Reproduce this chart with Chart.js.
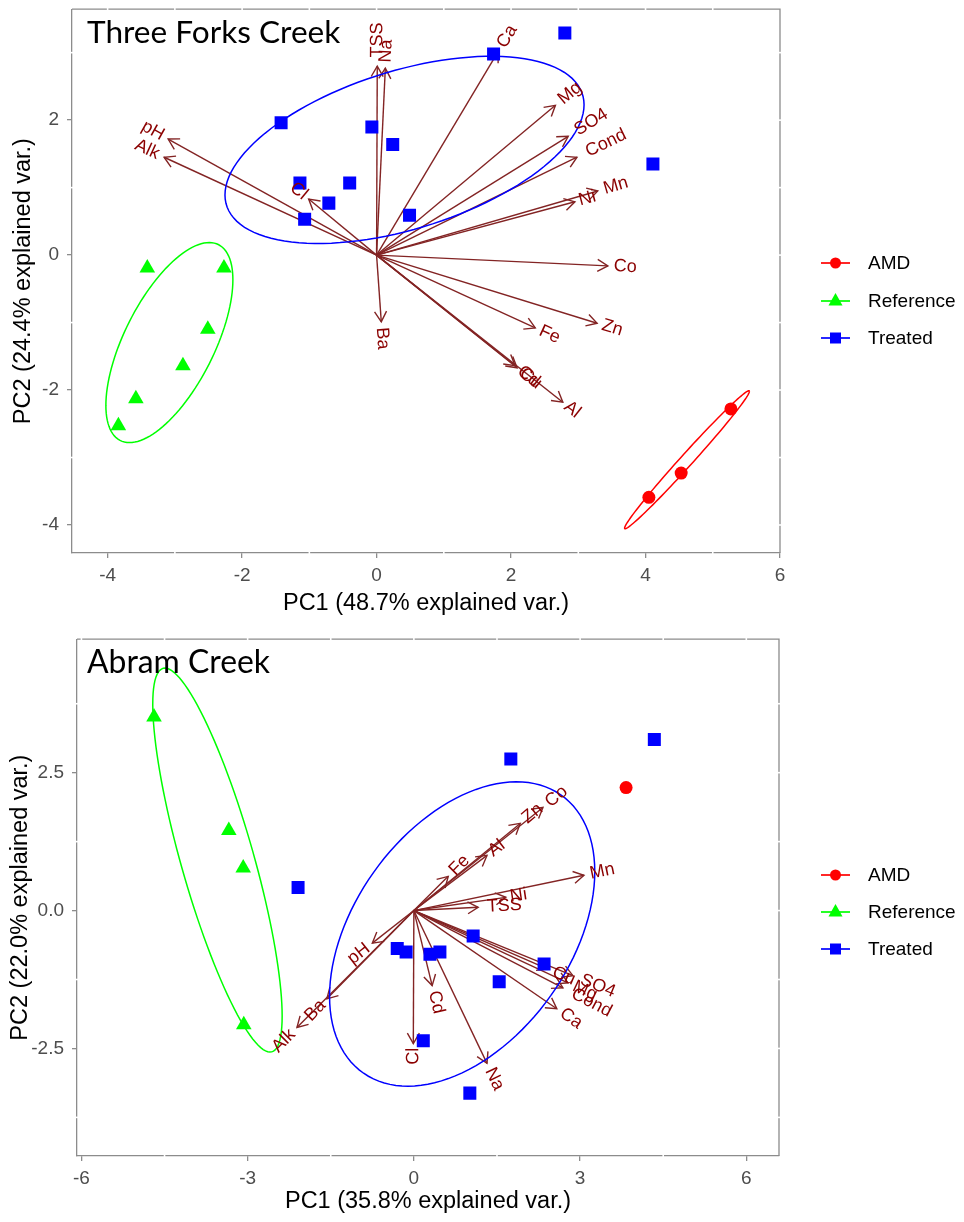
<!DOCTYPE html>
<html>
<head>
<meta charset="utf-8">
<title>PCA biplots</title>
<script src="https://cdn.jsdelivr.net/npm/chart.js@4.4.1/dist/chart.umd.min.js"></script>
<style>
  body { margin: 0; background: #fff; }
  canvas { position: absolute; left: 0; }
</style>
</head>
<body>
<canvas id="tfChart" width="964" height="630" style="top:0"></canvas>
<canvas id="abChart" width="964" height="592" style="top:630px"></canvas>
<script>
// ---- Three Forks Creek: sample scores (PC1, PC2) ----
const tfAmdPC1 = [5.27, 4.53, 4.05];
const tfAmdPC2 = [-2.28, -3.23, -3.59];
const tfRefPC1 = [-3.41, -2.27, -2.51, -2.88, -3.58, -3.84];
const tfRefPC2 = [-0.19, -0.19, -1.10, -1.64, -2.13, -2.53];
const tfTrtPC1 = [-1.42, -0.07, 0.24, -1.14, -0.40, -0.71, -1.07, 0.49, 1.74, 2.80, 4.11];
const tfTrtPC2 = [1.96, 1.90, 1.64, 1.07, 1.07, 0.77, 0.53, 0.59, 2.98, 3.29, 1.35];
// variable loadings
const tfVars = ['pH', 'Alk', 'Cl', 'TSS', 'Na', 'Ca', 'Mg', 'SO4', 'Cond', 'Mn', 'Ni', 'Co', 'Zn', 'Fe', 'Cd', 'Cu', 'Al', 'Ba'];
const tfVarPC1 = [-3.10, -3.16, -1.01, 0.01, 0.13, 1.81, 2.66, 2.85, 2.98, 3.29, 2.95, 3.44, 3.28, 2.36, 2.06, 2.09, 2.77, 0.07];
const tfVarPC2 = [1.72, 1.45, 0.83, 2.80, 2.77, 3.02, 2.22, 1.76, 1.45, 0.95, 0.79, -0.16, -1.01, -1.08, -1.64, -1.67, -2.18, -0.99];
const tfTicksX = [-4, -2, 0, 2, 4, 6];
const tfTicksY = [-4, -2, 0, 2];

// ---- Abram Creek ----
const abAmdPC1 = [3.83];
const abAmdPC2 = [2.23];
const abRefPC1 = [-4.69, -3.34, -3.08, -3.07];
const abRefPC2 = [3.51, 1.45, 0.77, -2.07];
const abTrtPC1 = [-2.09, 1.75, 4.34, 1.07, 2.35, 1.54, 0.17, 1.01, -0.30, -0.14, 0.29, 0.47];
const abTrtPC2 = [0.42, 2.75, 3.10, -0.46, -0.97, -1.29, -2.36, -3.31, -0.69, -0.75, -0.79, -0.75];
const abVars = ['Fe', 'Al', 'Zn', 'Co', 'Mn', 'TSS', 'Ni', 'pH', 'Ba', 'Alk', 'Cl', 'Cd', 'Na', 'Cu', 'SO4', 'Mg', 'Cond', 'Ca'];
const abVarPC1 = [0.62, 1.32, 1.92, 2.33, 3.07, 1.16, 1.66, -0.75, -1.57, -2.11, -0.01, 0.33, 1.32, 2.42, 2.87, 2.78, 2.69, 2.58];
const abVarPC2 = [0.62, 1.00, 1.58, 1.87, 0.64, 0.06, 0.24, -0.59, -1.60, -2.12, -2.41, -1.36, -2.77, -1.06, -1.18, -1.31, -1.40, -1.78];
const abTicksX = [-6, -3, 0, 3, 6];
const abTicksY = [-2.5, 0, 2.5];

const groupNames = ['AMD', 'Reference', 'Treated'];
const groupColors = ['#FF0000', '#00FF00', '#0000FF'];
const markerStyles = ['circle', 'triangle', 'rect'];
const markerRadii = [6.5, 9, 9.2];
const ELLIPSE_PROB = 0.68;   // ggbiplot default
const FONT = "'Liberation Sans', Arial, sans-serif";
const AXIS_GREY = '#8c8c8c';

// normal-probability ellipse of a group, the way ggbiplot builds it
function ellipsePoints(xs, ys) {
  const n = xs.length;
  const mx = xs.reduce((a, b) => a + b, 0) / n;
  const my = ys.reduce((a, b) => a + b, 0) / n;
  let sxx = 0, syy = 0, sxy = 0;
  for (let i = 0; i < n; i++) {
    const dx = xs[i] - mx, dy = ys[i] - my;
    sxx += dx * dx; syy += dy * dy; sxy += dx * dy;
  }
  sxx /= n - 1; syy /= n - 1; sxy /= n - 1;
  const r11 = Math.sqrt(sxx), r12 = sxy / r11, r22 = Math.sqrt(Math.max(syy - r12 * r12, 0));
  const ed = Math.sqrt(-2 * Math.log(1 - ELLIPSE_PROB));
  const pts = [];
  for (let k = 0; k <= 120; k++) {
    const t = 2 * Math.PI * k / 120;
    const cx = Math.cos(t), cy = Math.sin(t);
    pts.push([mx + ed * cx * r11, my + ed * (cx * r12 + cy * r22)]);
  }
  return pts;
}

function legendMarker(c, style, x, y) {
  c.beginPath();
  if (style === 'circle') c.arc(x, y, 5.5, 0, 2 * Math.PI);
  else if (style === 'triangle') {
    c.moveTo(x, y - 8); c.lineTo(x + 7, y + 4.5); c.lineTo(x - 7, y + 4.5); c.closePath();
  } else c.rect(x - 5.5, y - 5.5, 11, 11);
  c.fill();
}

// minor positions halfway between major ticks
function halfSteps(ticks, min, max) {
  const out = [];
  const step = ticks[1] - ticks[0];
  for (let v = ticks[0] - step / 2; v <= max; v += step) if (v >= min) out.push(v);
  return out;
}

function makeBiplot(id, o) {
  const scores = [[o.amd1, o.amd2], [o.ref1, o.ref2], [o.trt1, o.trt2]];
  const datasets = groupNames.map((g, k) => ({
    label: g,
    data: scores[k][0].map((x, i) => ({ x: x, y: scores[k][1][i] })),
    pointStyle: markerStyles[k],
    pointRadius: markerRadii[k],
    backgroundColor: groupColors[k],
    borderWidth: 0
  }));

  const biplot = {
    id: 'biplot',
    beforeDatasetsDraw(chart) {
      const c = chart.ctx, xs = chart.scales.x, ys = chart.scales.y;
      const ox = xs.getPixelForValue(0), oy = ys.getPixelForValue(0);
      c.save();
      c.strokeStyle = '#832424';
      c.lineWidth = 1.4;
      o.vars.forEach((v, i) => {
        const tx = xs.getPixelForValue(o.v1[i]), ty = ys.getPixelForValue(o.v2[i]);
        c.beginPath(); c.moveTo(ox, oy); c.lineTo(tx, ty); c.stroke();
        const ang = Math.atan2(ty - oy, tx - ox), L = 12, A = Math.PI / 6;
        c.beginPath();
        c.moveTo(tx - L * Math.cos(ang - A), ty - L * Math.sin(ang - A));
        c.lineTo(tx, ty);
        c.lineTo(tx - L * Math.cos(ang + A), ty - L * Math.sin(ang + A));
        c.stroke();
      });
      c.restore();
    },
    afterDatasetsDraw(chart) {
      const c = chart.ctx, xs = chart.scales.x, ys = chart.scales.y;
      c.save();
      // group ellipses
      c.lineWidth = 1.5;
      scores.forEach((s, k) => {
        if (s[0].length < 3) return;
        const pts = ellipsePoints(s[0], s[1]);
        c.strokeStyle = groupColors[k];
        c.beginPath();
        pts.forEach((p, j) => {
          const px = xs.getPixelForValue(p[0]), py = ys.getPixelForValue(p[1]);
          if (j === 0) c.moveTo(px, py); else c.lineTo(px, py);
        });
        c.stroke();
      });
      // variable names along the arrows
      c.font = '18px ' + FONT;
      c.fillStyle = '#8B0000';
      c.textBaseline = 'middle';
      o.vars.forEach((v, i) => {
        const x = o.v1[i], y = o.v2[i];
        const tx = xs.getPixelForValue(x), ty = ys.getPixelForValue(y);
        const a = Math.atan(y / x);
        const w = c.measureText(v).width;
        c.save();
        c.translate(tx, ty);
        c.rotate(-a);
        if (x > 0) { c.textAlign = 'left'; c.fillText(v, 0.25 * w, 0); }
        else { c.textAlign = 'right'; c.fillText(v, -0.25 * w, 0); }
        c.restore();
      });
      c.restore();
    },
    afterDraw(chart) {
      const c = chart.ctx, a = chart.chartArea, xs = chart.scales.x, ys = chart.scales.y;
      c.save();
      // top and right panel edges
      c.strokeStyle = AXIS_GREY;
      c.lineWidth = 1.3;
      c.beginPath();
      c.moveTo(a.left, a.top); c.lineTo(a.right, a.top); c.lineTo(a.right, a.bottom);
      c.stroke();
      // white grid lines show only where they cross the frame
      c.strokeStyle = '#fff';
      c.lineWidth = 1.6;
      const minX = halfSteps(o.ticksX, o.xMin, o.xMax), minY = halfSteps(o.ticksY, o.yMin, o.yMax);
      minX.concat(o.ticksX).forEach(v => {
        const x = xs.getPixelForValue(v);
        if (x <= a.left + 2 || x >= a.right - 2) return;
        c.beginPath(); c.moveTo(x, a.top - 1.5); c.lineTo(x, a.top + 1.5); c.stroke();
      });
      minX.forEach(v => {
        const x = xs.getPixelForValue(v);
        c.beginPath(); c.moveTo(x, a.bottom - 1.5); c.lineTo(x, a.bottom + 1.5); c.stroke();
      });
      minY.concat(o.ticksY).forEach(v => {
        const y = ys.getPixelForValue(v);
        if (y <= a.top + 2 || y >= a.bottom - 2) return;
        c.beginPath(); c.moveTo(a.right - 1.5, y); c.lineTo(a.right + 1.5, y); c.stroke();
      });
      minY.forEach(v => {
        const y = ys.getPixelForValue(v);
        c.beginPath(); c.moveTo(a.left - 1.5, y); c.lineTo(a.left + 1.5, y); c.stroke();
      });
      // panel title
      c.fillStyle = '#000';
      c.textAlign = 'left';
      c.textBaseline = 'alphabetic';
      c.font = '30px Lato, sans-serif';
      const fs = 30 * o.titleWidth / c.measureText(o.title).width;
      c.font = fs.toFixed(1) + 'px Lato, sans-serif';
      c.fillText(o.title, 87, o.titleBase);
      // legend
      c.font = '19px ' + FONT;
      c.textBaseline = 'middle';
      o.legendY.forEach((ly, k) => {
        c.strokeStyle = groupColors[k];
        c.fillStyle = groupColors[k];
        c.lineWidth = 1.7;
        c.beginPath(); c.moveTo(821, ly); c.lineTo(850, ly); c.stroke();
        legendMarker(c, markerStyles[k], 835.5, ly);
        c.fillStyle = '#000';
        c.fillText(groupNames[k], 868, ly + 1);
      });
      c.restore();
    }
  };

  const canvas = document.getElementById(id);
  return new Chart(canvas, {
    type: 'scatter',
    data: { datasets: datasets },
    options: {
      responsive: false,
      animation: false,
      events: [],
      layout: { padding: { left: 0, top: o.top, right: canvas.width - o.right, bottom: 0 } },
      plugins: { legend: { display: false }, tooltip: { enabled: false } },
      scales: {
        x: {
          type: 'linear', min: o.xMin, max: o.xMax,
          afterBuildTicks: s => { s.ticks = o.ticksX.map(v => ({ value: v })); },
          afterFit: s => { s.height = canvas.height - o.bottom; s.paddingLeft = 0; s.paddingRight = 0; },
          ticks: { color: '#4d4d4d', font: { family: FONT, size: 19 }, padding: 6, maxRotation: 0, autoSkip: false, callback: o.fmtX },
          grid: { drawOnChartArea: false, tickLength: 5, color: AXIS_GREY, lineWidth: 1.3 },
          border: { color: AXIS_GREY, width: 1.3 },
          title: { display: true, text: o.xTitle, color: '#000', font: { family: FONT, size: 23.5 }, padding: { top: 0, bottom: o.xTitlePad } }
        },
        y: {
          type: 'linear', min: o.yMin, max: o.yMax,
          afterBuildTicks: s => { s.ticks = o.ticksY.map(v => ({ value: v })); },
          afterFit: s => { s.width = o.left; s.paddingTop = 0; s.paddingBottom = 0; },
          ticks: { color: '#4d4d4d', font: { family: FONT, size: 19 }, padding: 8, autoSkip: false, callback: o.fmtY },
          grid: { drawOnChartArea: false, tickLength: 5, color: AXIS_GREY, lineWidth: 1.3 },
          border: { color: AXIS_GREY, width: 1.3 },
          title: { display: true, text: o.yTitle, color: '#000', font: { family: FONT, size: 23.5 }, padding: { top: o.yTitlePad, bottom: 0 } }
        }
      }
    },
    plugins: [biplot]
  });
}

makeBiplot('tfChart', {
  amd1: tfAmdPC1, amd2: tfAmdPC2, ref1: tfRefPC1, ref2: tfRefPC2, trt1: tfTrtPC1, trt2: tfTrtPC2,
  vars: tfVars, v1: tfVarPC1, v2: tfVarPC2,
  ticksX: tfTicksX, ticksY: tfTicksY, fmtX: v => String(v), fmtY: v => String(v),
  xMin: -4.53, xMax: 6, yMin: -4.415, yMax: 3.644,
  left: 72, right: 780, top: 9, bottom: 553,
  xTitle: 'PC1 (48.7% explained var.)', yTitle: 'PC2 (24.4% explained var.)',
  xTitlePad: 12, yTitlePad: 9,
  title: 'Three Forks Creek', titleWidth: 253, titleBase: 43,
  legendY: [263, 301, 338]
});

makeBiplot('abChart', {
  amd1: abAmdPC1, amd2: abAmdPC2, ref1: abRefPC1, ref2: abRefPC2, trt1: abTrtPC1, trt2: abTrtPC2,
  vars: abVars, v1: abVarPC1, v2: abVarPC2,
  ticksX: abTicksX, ticksY: abTicksY, fmtX: v => String(v), fmtY: v => v.toFixed(1),
  xMin: -6.08, xMax: 6.59, yMin: -4.45, yMax: 4.92,
  left: 77, right: 779, top: 7, bottom: 526,
  xTitle: 'PC1 (35.8% explained var.)', yTitle: 'PC2 (22.0% explained var.)',
  xTitlePad: 6, yTitlePad: 6,
  title: 'Abram Creek', titleWidth: 183, titleBase: 43,
  legendY: [245, 282, 319]
});
</script>
</body>
</html>
